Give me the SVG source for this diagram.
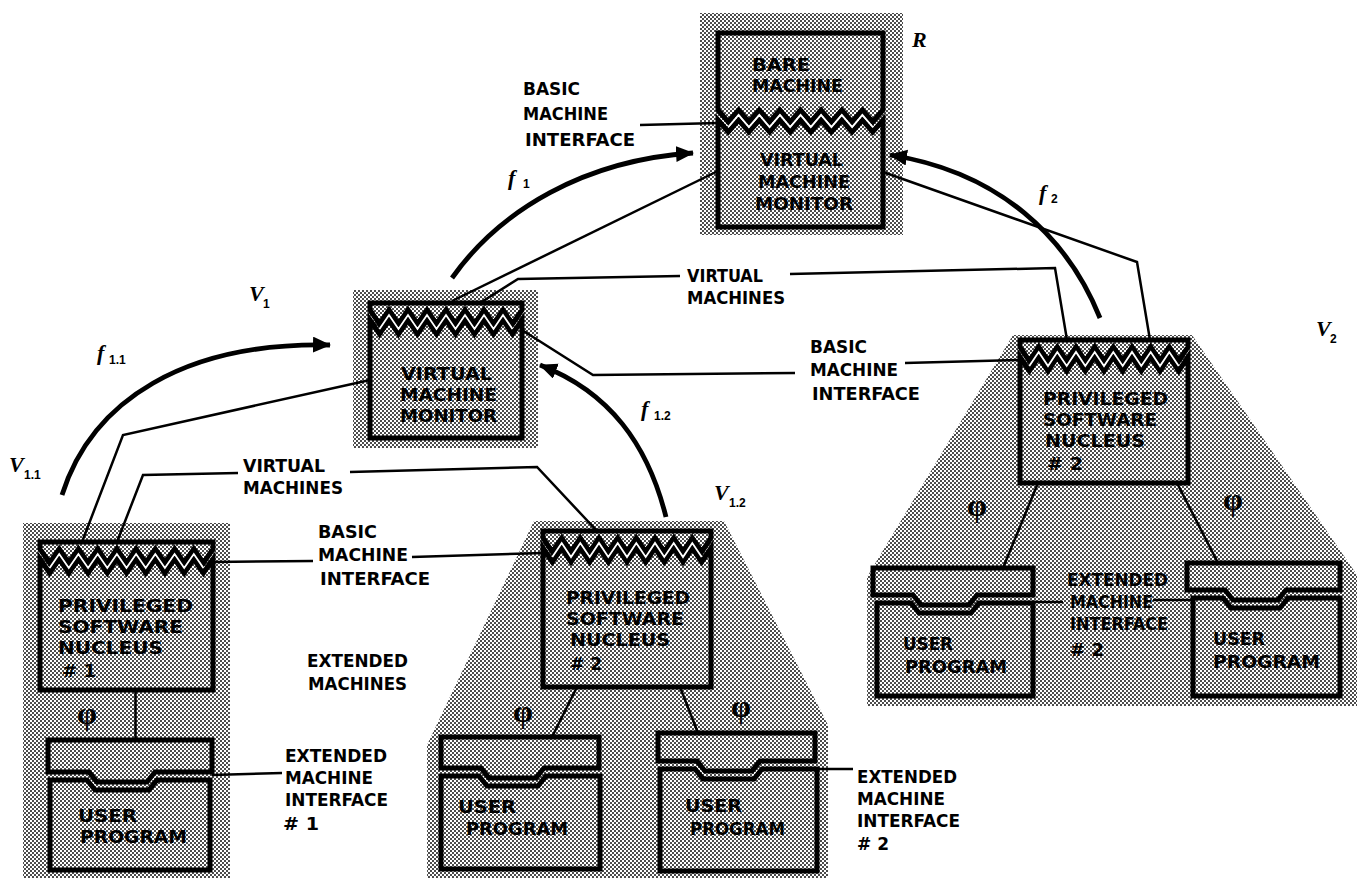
<svg xmlns="http://www.w3.org/2000/svg" width="1357" height="878" viewBox="0 0 1357 878">
<defs>
<pattern id="dots" width="4" height="4" patternUnits="userSpaceOnUse"><rect width="4" height="4" fill="#fff"/><circle cx="1" cy="1" r="0.95" fill="#000"/><circle cx="3" cy="3" r="0.95" fill="#000"/></pattern>
<marker id="ah" markerWidth="20" markerHeight="18" refX="17" refY="8" orient="auto" markerUnits="userSpaceOnUse"><path d="M0,0 L18,8 L0,16 Z" fill="#000"/></marker>
<style>
.sh{fill:url(#dots)}
.bx{fill:url(#dots);stroke:#000;stroke-width:5;stroke-linejoin:miter}
.wz{fill:none;stroke:#fff;stroke-width:1.8}
.cn{fill:none;stroke:#000;stroke-width:2.5}
.arc{fill:none;stroke:#000;stroke-width:4.8;marker-end:url(#ah)}
.t{font-family:"DejaVu Sans","Liberation Sans",Arial,sans-serif;font-stretch:condensed;font-weight:bold;font-size:18.5px;fill:#000}
.i{font-family:"DejaVu Sans","Liberation Sans",Arial,sans-serif;font-stretch:condensed;font-weight:bold;font-size:18px;fill:#000}
.it{font-family:"Liberation Serif","Times New Roman",serif;font-style:italic;font-weight:bold;font-size:22px;fill:#000}
.sb{font-family:"Liberation Sans",Arial,sans-serif;font-weight:bold;font-size:12px;fill:#000}
.ph{font-family:"Liberation Serif","Times New Roman",serif;font-weight:bold;font-size:32px;text-anchor:middle;fill:#000}
</style>
</defs>
<rect width="1357" height="878" fill="#fff"/>

<g id="shading">
<rect class="sh" x="700" y="13" width="203" height="222"/>
<rect class="sh" x="353" y="290" width="185" height="158"/>
<rect class="sh" x="23" y="523" width="207" height="355"/>
<polygon class="sh" points="534,521 724,521 828,725 828,878 427,878 427,745"/>
<polygon class="sh" points="1013,335 1192,335 1357,575 1357,706 867,706 867,577"/>
</g>

<g id="connectors">
<polyline class="cn" points="640,125 718,123"/>
<polyline class="cn" points="720,170 452,301"/>
<polyline class="cn" points="883,172 1137,262 1150,340"/>
<polyline class="cn" points="680,276 518,279 480,303"/>
<polyline class="cn" points="790,274 1055,268 1067,340"/>
<polyline class="cn" points="795,373 593,375 522,330"/>
<polyline class="cn" points="905,363 1020,360"/>
<polyline class="cn" points="370,380 123,435 82,542"/>
<polyline class="cn" points="238,473 143,475 117,542"/>
<polyline class="cn" points="350,472 537,467 597,531"/>
<polyline class="cn" points="213,562 313,561"/>
<polyline class="cn" points="412,557 543,553"/>
<polyline class="cn" points="135.5,690 135.5,740"/>
<polyline class="cn" points="577,687 552,737"/>
<polyline class="cn" points="680,687 698,733"/>
<polyline class="cn" points="212,775 282,773"/>
<polyline class="cn" points="817,769 853,769"/>
<polyline class="cn" points="1038,483 1003,568"/>
<polyline class="cn" points="1177,483 1218,563"/>
<polyline class="cn" points="1033,602 1063,602"/>
<polyline class="cn" points="1153,600 1193,600"/>
<path class="arc" d="M62,495 C92,400 185,342 330,345"/>
<path class="arc" d="M452,278 C500,210 585,160 693,153"/>
<path class="arc" d="M1100,318 C1068,238 1000,172 890,155"/>
<path class="arc" d="M666,517 C648,445 610,392 540,365"/>
</g>

<g id="node-R">
<path class="bx" d="M718,33 H883 V110 L872.7,122 L862.4,110 L852.1,122 L841.8,110 L831.4,122 L821.1,110 L810.8,122 L800.5,110 L790.2,122 L779.9,110 L769.6,122 L759.3,110 L748.9,122 L738.6,110 L728.3,122 L718,110 Z"/>
<path class="bx" d="M718,120 L728.3,132 L738.6,120 L748.9,132 L759.3,120 L769.6,132 L779.9,120 L790.2,132 L800.5,120 L810.8,132 L821.1,120 L831.4,132 L841.8,120 L852.1,132 L862.4,120 L872.7,132 L883,120 V227 H718 Z"/>
<polyline class="wz" points="728.3,127 738.6,115 748.9,127 759.3,115 769.6,127 779.9,115 790.2,127 800.5,115 810.8,127 821.1,115 831.4,127 841.8,115 852.1,127 862.4,115 872.7,127"/>
<text class="i" x="752" y="71" textLength="58" lengthAdjust="spacingAndGlyphs">BARE</text>
<text class="i" x="752" y="92" textLength="91" lengthAdjust="spacingAndGlyphs">MACHINE</text>
<text class="i" x="760" y="166" textLength="83" lengthAdjust="spacingAndGlyphs">VIRTUAL</text>
<text class="i" x="758" y="188" textLength="92" lengthAdjust="spacingAndGlyphs">MACHINE</text>
<text class="i" x="755" y="210" textLength="98" lengthAdjust="spacingAndGlyphs">MONITOR</text>
</g>

<g id="node-V1">
<path class="bx" d="M370,303 H522 V310 L512.5,324 L503,310 L493.5,324 L484,310 L474.5,324 L465,310 L455.5,324 L446,310 L436.5,324 L427,310 L417.5,324 L408,310 L398.5,324 L389,310 L379.5,324 L370,310 Z"/>
<path class="bx" d="M370,320 L379.5,334 L389,320 L398.5,334 L408,320 L417.5,334 L427,320 L436.5,334 L446,320 L455.5,334 L465,320 L474.5,334 L484,320 L493.5,334 L503,320 L512.5,334 L522,320 V438 H370 Z"/>
<polyline class="wz" points="379.5,329 389,315 398.5,329 408,315 417.5,329 427,315 436.5,329 446,315 455.5,329 465,315 474.5,329 484,315 493.5,329 503,315 512.5,329"/>
<text class="i" x="401" y="380" textLength="91" lengthAdjust="spacingAndGlyphs">VIRTUAL</text>
<text class="i" x="400" y="401" textLength="97" lengthAdjust="spacingAndGlyphs">MACHINE</text>
<text class="i" x="400" y="422" textLength="97" lengthAdjust="spacingAndGlyphs">MONITOR</text>
</g>

<g id="node-V11">
<path class="bx" d="M40,542 H213 V549 L203.4,563 L193.8,549 L184.2,563 L174.6,549 L164.9,563 L155.3,549 L145.7,563 L136.1,549 L126.5,563 L116.9,549 L107.3,563 L97.7,549 L88.1,563 L78.4,549 L68.8,563 L59.2,549 L49.6,563 L40,549 Z"/>
<path class="bx" d="M40,559 L49.6,573 L59.2,559 L68.8,573 L78.4,559 L88.1,573 L97.7,559 L107.3,573 L116.9,559 L126.5,573 L136.1,559 L145.7,573 L155.3,559 L164.9,573 L174.6,559 L184.2,573 L193.8,559 L203.4,573 L213,559 V690 H40 Z"/>
<polyline class="wz" points="49.6,568 59.2,554 68.8,568 78.4,554 88.1,568 97.7,554 107.3,568 116.9,554 126.5,568 136.1,554 145.7,568 155.3,554 164.9,568 174.6,554 184.2,568 193.8,554 203.4,568"/>
<text class="i" x="58" y="612" textLength="135" lengthAdjust="spacingAndGlyphs">PRIVILEGED</text>
<text class="i" x="58" y="633" textLength="125" lengthAdjust="spacingAndGlyphs">SOFTWARE</text>
<text class="i" x="58" y="654" textLength="105" lengthAdjust="spacingAndGlyphs">NUCLEUS</text>
<text class="i" x="62" y="677" textLength="34" lengthAdjust="spacingAndGlyphs"># 1</text>
<text class="ph" x="87" y="724">φ</text>
</g>
<g id="node-V11-up">
<path class="bx" d="M48,740 H212 V772 H155 L147,782 H97 L89,772 H48 Z"/>
<path class="bx" d="M50,780 H87 L95,790 H149 L157,780 H210 V870 H50 Z"/>
<text class="i" x="78" y="822" textLength="59" lengthAdjust="spacingAndGlyphs">USER</text>
<text class="i" x="80" y="843" textLength="107" lengthAdjust="spacingAndGlyphs">PROGRAM</text>
</g>

<g id="node-V12">
<path class="bx" d="M543,531 H711 V538 L701.7,552 L692.3,538 L683,552 L673.7,538 L664.3,552 L655,538 L645.7,552 L636.3,538 L627,552 L617.7,538 L608.3,552 L599,538 L589.7,552 L580.3,538 L571,552 L561.7,538 L552.3,552 L543,538 Z"/>
<path class="bx" d="M543,548 L552.3,562 L561.7,548 L571,562 L580.3,548 L589.7,562 L599,548 L608.3,562 L617.7,548 L627,562 L636.3,548 L645.7,562 L655,548 L664.3,562 L673.7,548 L683,562 L692.3,548 L701.7,562 L711,548 V687 H543 Z"/>
<polyline class="wz" points="552.3,557 561.7,543 571,557 580.3,543 589.7,557 599,543 608.3,557 617.7,543 627,557 636.3,543 645.7,557 655,543 664.3,557 673.7,543 683,557 692.3,543 701.7,557"/>
<text class="i" x="566" y="604" textLength="124" lengthAdjust="spacingAndGlyphs">PRIVILEGED</text>
<text class="i" x="566" y="625" textLength="118" lengthAdjust="spacingAndGlyphs">SOFTWARE</text>
<text class="i" x="570" y="646" textLength="100" lengthAdjust="spacingAndGlyphs">NUCLEUS</text>
<text class="i" x="570" y="670" textLength="32" lengthAdjust="spacingAndGlyphs"># 2</text>
<text class="ph" x="523" y="722">φ</text>
<text class="ph" x="741" y="717">φ</text>
</g>
<g id="node-V12-up1">
<path class="bx" d="M441,737 H599 V768 H544 L536,778 H489 L481,768 H441 Z"/>
<path class="bx" d="M441,776 H479 L487,786 H538 L546,776 H600 V869 H441 Z"/>
<text class="i" x="458" y="813" textLength="58" lengthAdjust="spacingAndGlyphs">USER</text>
<text class="i" x="466" y="835" textLength="102" lengthAdjust="spacingAndGlyphs">PROGRAM</text>
</g>
<g id="node-V12-up2">
<path class="bx" d="M658,733 H815 V761 H760 L752,771 H705 L697,761 H658 Z"/>
<path class="bx" d="M660,769 H695 L703,779 H754 L762,769 H817 V871 H660 Z"/>
<text class="i" x="685" y="812" textLength="57" lengthAdjust="spacingAndGlyphs">USER</text>
<text class="i" x="690" y="835" textLength="95" lengthAdjust="spacingAndGlyphs">PROGRAM</text>
</g>

<g id="node-V2">
<path class="bx" d="M1020,340 H1188 V347 L1178.7,361 L1169.3,347 L1160,361 L1150.7,347 L1141.3,361 L1132,347 L1122.7,361 L1113.3,347 L1104,361 L1094.7,347 L1085.3,361 L1076,347 L1066.7,361 L1057.3,347 L1048,361 L1038.7,347 L1029.3,361 L1020,347 Z"/>
<path class="bx" d="M1020,357 L1029.3,371 L1038.7,357 L1048,371 L1057.3,357 L1066.7,371 L1076,357 L1085.3,371 L1094.7,357 L1104,371 L1113.3,357 L1122.7,371 L1132,357 L1141.3,371 L1150.7,357 L1160,371 L1169.3,357 L1178.7,371 L1188,357 V483 H1020 Z"/>
<polyline class="wz" points="1029.3,366 1038.7,352 1048,366 1057.3,352 1066.7,366 1076,352 1085.3,366 1094.7,352 1104,366 1113.3,352 1122.7,366 1132,352 1141.3,366 1150.7,352 1160,366 1169.3,352 1178.7,366"/>
<text class="i" x="1043" y="405" textLength="125" lengthAdjust="spacingAndGlyphs">PRIVILEGED</text>
<text class="i" x="1043" y="426" textLength="114" lengthAdjust="spacingAndGlyphs">SOFTWARE</text>
<text class="i" x="1045" y="447" textLength="100" lengthAdjust="spacingAndGlyphs">NUCLEUS</text>
<text class="i" x="1047" y="470" textLength="36" lengthAdjust="spacingAndGlyphs"># 2</text>
<text class="ph" x="977" y="516">φ</text>
<text class="ph" x="1233" y="510">φ</text>
</g>
<g id="node-V2-up1">
<path class="bx" d="M873,568 H1033 V595 H977 L969,605 H921 L913,595 H873 Z"/>
<path class="bx" d="M877,603 H911 L919,613 H971 L979,603 H1033 V696 H877 Z"/>
<text class="i" x="903" y="650" textLength="50" lengthAdjust="spacingAndGlyphs">USER</text>
<text class="i" x="905" y="673" textLength="102" lengthAdjust="spacingAndGlyphs">PROGRAM</text>
</g>
<g id="node-V2-up2">
<path class="bx" d="M1187,563 H1340 V590 H1286 L1278,600 H1233 L1225,590 H1187 Z"/>
<path class="bx" d="M1193,598 H1223 L1231,608 H1280 L1288,598 H1340 V696 H1193 Z"/>
<text class="i" x="1213" y="645" textLength="52" lengthAdjust="spacingAndGlyphs">USER</text>
<text class="i" x="1213" y="668" textLength="107" lengthAdjust="spacingAndGlyphs">PROGRAM</text>
</g>

<g id="labels">
<text class="t" x="523" y="95" textLength="57" lengthAdjust="spacingAndGlyphs">BASIC</text>
<text class="t" x="523" y="120" textLength="85" lengthAdjust="spacingAndGlyphs">MACHINE</text>
<text class="t" x="525" y="146" textLength="110" lengthAdjust="spacingAndGlyphs">INTERFACE</text>

<text class="t" x="687" y="282" textLength="76" lengthAdjust="spacingAndGlyphs">VIRTUAL</text>
<text class="t" x="687" y="304" textLength="98" lengthAdjust="spacingAndGlyphs">MACHINES</text>

<text class="t" x="810" y="353" textLength="57" lengthAdjust="spacingAndGlyphs">BASIC</text>
<text class="t" x="810" y="376" textLength="88" lengthAdjust="spacingAndGlyphs">MACHINE</text>
<text class="t" x="812" y="400" textLength="108" lengthAdjust="spacingAndGlyphs">INTERFACE</text>

<text class="t" x="243" y="472" textLength="82" lengthAdjust="spacingAndGlyphs">VIRTUAL</text>
<text class="t" x="243" y="494" textLength="100" lengthAdjust="spacingAndGlyphs">MACHINES</text>

<text class="t" x="318" y="538" textLength="59" lengthAdjust="spacingAndGlyphs">BASIC</text>
<text class="t" x="318" y="561" textLength="90" lengthAdjust="spacingAndGlyphs">MACHINE</text>
<text class="t" x="320" y="585" textLength="110" lengthAdjust="spacingAndGlyphs">INTERFACE</text>

<text class="t" x="307" y="667" textLength="101" lengthAdjust="spacingAndGlyphs">EXTENDED</text>
<text class="t" x="308" y="690" textLength="99" lengthAdjust="spacingAndGlyphs">MACHINES</text>

<text class="t" x="285" y="762" textLength="102" lengthAdjust="spacingAndGlyphs">EXTENDED</text>
<text class="t" x="285" y="784" textLength="88" lengthAdjust="spacingAndGlyphs">MACHINE</text>
<text class="t" x="285" y="806" textLength="103" lengthAdjust="spacingAndGlyphs">INTERFACE</text>
<text class="t" x="283" y="830" textLength="36" lengthAdjust="spacingAndGlyphs"># 1</text>

<text class="t" x="857" y="783" textLength="100" lengthAdjust="spacingAndGlyphs">EXTENDED</text>
<text class="t" x="857" y="805" textLength="88" lengthAdjust="spacingAndGlyphs">MACHINE</text>
<text class="t" x="857" y="827" textLength="103" lengthAdjust="spacingAndGlyphs">INTERFACE</text>
<text class="t" x="857" y="850" textLength="32" lengthAdjust="spacingAndGlyphs"># 2</text>

<text class="t" x="1067" y="586" textLength="101" lengthAdjust="spacingAndGlyphs">EXTENDED</text>
<text class="t" x="1070" y="608" textLength="83" lengthAdjust="spacingAndGlyphs">MACHINE</text>
<text class="t" x="1070" y="630" textLength="98" lengthAdjust="spacingAndGlyphs">INTERFACE</text>
<text class="t" x="1070" y="656" textLength="34" lengthAdjust="spacingAndGlyphs"># 2</text>

<text class="it" x="912" y="47">R</text>
<text class="it" x="508" y="185">f</text><text class="sb" x="523" y="188">1</text>
<text class="it" x="1039" y="200">f</text><text class="sb" x="1051" y="203">2</text>
<text class="it" x="249" y="301">V</text><text class="sb" x="263" y="308">1</text>
<text class="it" x="97" y="360">f</text><text class="sb" x="109" y="364">1.1</text>
<text class="it" x="641" y="416">f</text><text class="sb" x="654" y="420">1.2</text>
<text class="it" x="9" y="472">V</text><text class="sb" x="24" y="479">1.1</text>
<text class="it" x="714" y="500">V</text><text class="sb" x="729" y="507">1.2</text>
<text class="it" x="1316" y="336">V</text><text class="sb" x="1330" y="343">2</text>
</g>
</svg>
